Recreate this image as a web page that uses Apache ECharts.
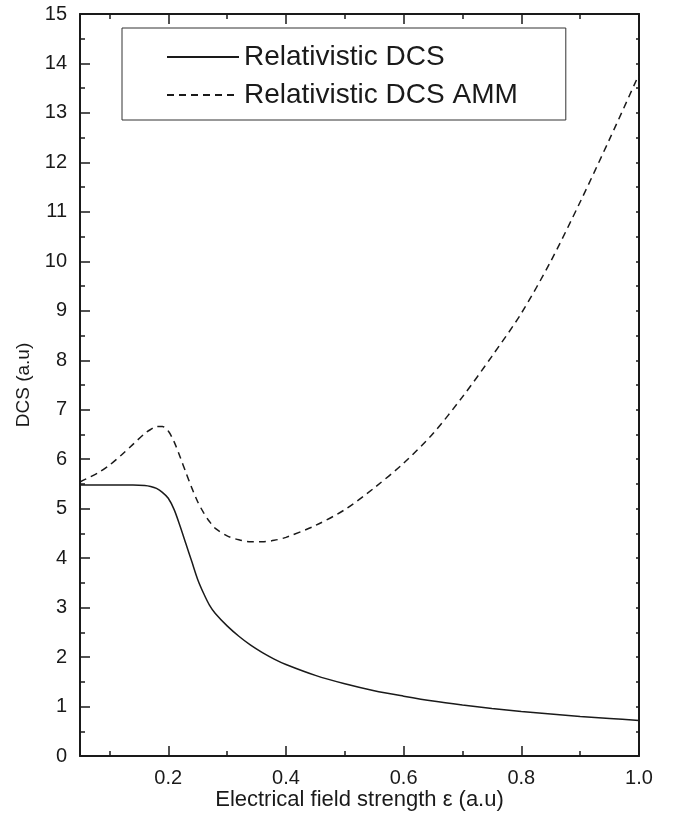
<!DOCTYPE html>
<html lang="en">
<head>
<meta charset="UTF-8">
<title>DCS vs electrical field strength</title>
<script src="https://cdn.jsdelivr.net/npm/echarts@6/dist/echarts.min.js"></script>
<style>
  body { margin: 0; background: #fff; }
  #chart { width: 675px; height: 832px; }
</style>
</head>
<body>
<div id="chart"></div>
<script>
// field strength samples (a.u)
const eps = [0.05, 0.08, 0.1, 0.12, 0.14, 0.16, 0.17, 0.18, 0.19, 0.2, 0.21, 0.22, 0.23, 0.24, 0.25,
  0.26, 0.27, 0.28, 0.3, 0.32, 0.34, 0.36, 0.38, 0.4, 0.45, 0.5, 0.55, 0.6, 0.65, 0.7, 0.75, 0.8,
  0.85, 0.9, 0.95, 1.0];
// Relativistic DCS (solid)
const dcs = [5.48, 5.48, 5.48, 5.48, 5.48, 5.47, 5.45, 5.41, 5.33, 5.21, 4.98, 4.65, 4.29, 3.93, 3.57,
  3.29, 3.05, 2.88, 2.63, 2.42, 2.24, 2.09, 1.96, 1.85, 1.63, 1.46, 1.32, 1.21, 1.11, 1.03, 0.96, 0.90,
  0.85, 0.80, 0.76, 0.72];
// Relativistic DCS AMM (dashed)
const dcsAmm = [5.54, 5.72, 5.88, 6.08, 6.30, 6.52, 6.60, 6.66, 6.66, 6.57, 6.35, 6.05, 5.73, 5.42, 5.14,
  4.92, 4.74, 4.60, 4.45, 4.37, 4.33, 4.33, 4.36, 4.42, 4.66, 4.98, 5.42, 5.92, 6.52, 7.26, 8.08, 8.95,
  10.0, 11.2, 12.47, 13.78];

const xMajor = [0.2, 0.4, 0.6, 0.8, 1.0];
const xMinor = [0.1, 0.3, 0.5, 0.7, 0.9];

const font = 'Liberation Sans, Arial, sans-serif';
const ink = '#1a1a1a';

const chart = echarts.init(document.getElementById('chart'));

function xAx(pos, ticks, len, showLine, showLabel) {
  return {
    type: 'value', position: pos, min: 0.05, max: 1.0,
    axisLine: { show: showLine, onZero: false, lineStyle: { color: ink, width: 2 } },
    axisTick: { show: true, inside: true, length: len, customValues: ticks, lineStyle: { color: ink, width: 1.5 } },
    axisLabel: { show: showLabel, customValues: ticks, margin: 12, color: ink, fontSize: 20, fontFamily: font,
      formatter: v => v.toFixed(1) },
    splitLine: { show: false }
  };
}

const bottomMain = xAx('bottom', xMajor, 10, true, true);
bottomMain.name = 'Electrical field strength \u03b5 (a.u)';
bottomMain.nameLocation = 'middle';
bottomMain.nameGap = 33;
bottomMain.nameMoveOverlap = false;
bottomMain.nameTextStyle = { color: ink, fontSize: 22, fontFamily: font };

chart.setOption({
  animation: false,
  backgroundColor: '#fff',
  grid: { left: 80, right: 36, top: 14, bottom: 76 },
  legend: {
    orient: 'vertical', left: 122, top: 28,
    padding: [15, 48, 11, 44],
    itemWidth: 72, itemHeight: 24, itemGap: 10,
    borderColor: '#333', borderWidth: 1,
    itemStyle: { opacity: 0 },
    textStyle: { color: ink, fontSize: 28, fontFamily: font },
    data: ['Relativistic DCS', 'Relativistic DCS AMM']
  },
  xAxis: [
    bottomMain,
    xAx('bottom', xMinor, 5, false, false),
    xAx('top', xMajor, 10, true, false),
    xAx('top', xMinor, 5, false, false)
  ],
  yAxis: [
    {
      type: 'value', position: 'left', min: 0, max: 15, interval: 1,
      name: 'DCS (a.u)', nameLocation: 'middle', nameGap: 47,
      nameTextStyle: { color: ink, fontSize: 19, fontFamily: font },
      axisLine: { show: true, lineStyle: { color: ink, width: 2 } },
      axisTick: { inside: true, length: 10, lineStyle: { color: ink, width: 1.5 } },
      minorTick: { show: true, splitNumber: 2, length: 5, lineStyle: { color: ink, width: 1.5 } },
      axisLabel: { margin: 13, color: ink, fontSize: 20, fontFamily: font },
      splitLine: { show: false }
    },
    {
      type: 'value', position: 'right', min: 0, max: 15, interval: 0.5,
      axisLine: { show: true, lineStyle: { color: ink, width: 2 } },
      axisTick: { inside: true, length: 3, lineStyle: { color: ink, width: 1.5 } },
      axisLabel: { show: false },
      splitLine: { show: false }
    }
  ],
  series: [
    {
      name: 'Relativistic DCS', type: 'line', symbol: 'none',
      smooth: 0.3,
      lineStyle: { color: ink, width: 1.5, type: 'solid' },
      itemStyle: { color: ink },
      data: eps.map((x, i) => [x, dcs[i]])
    },
    {
      name: 'Relativistic DCS AMM', type: 'line', symbol: 'none',
      smooth: 0.3,
      lineStyle: { color: ink, width: 1.5, type: [7, 5] },
      itemStyle: { color: ink },
      data: eps.map((x, i) => [x, dcsAmm[i]])
    }
  ]
});
</script>
</body>
</html>
